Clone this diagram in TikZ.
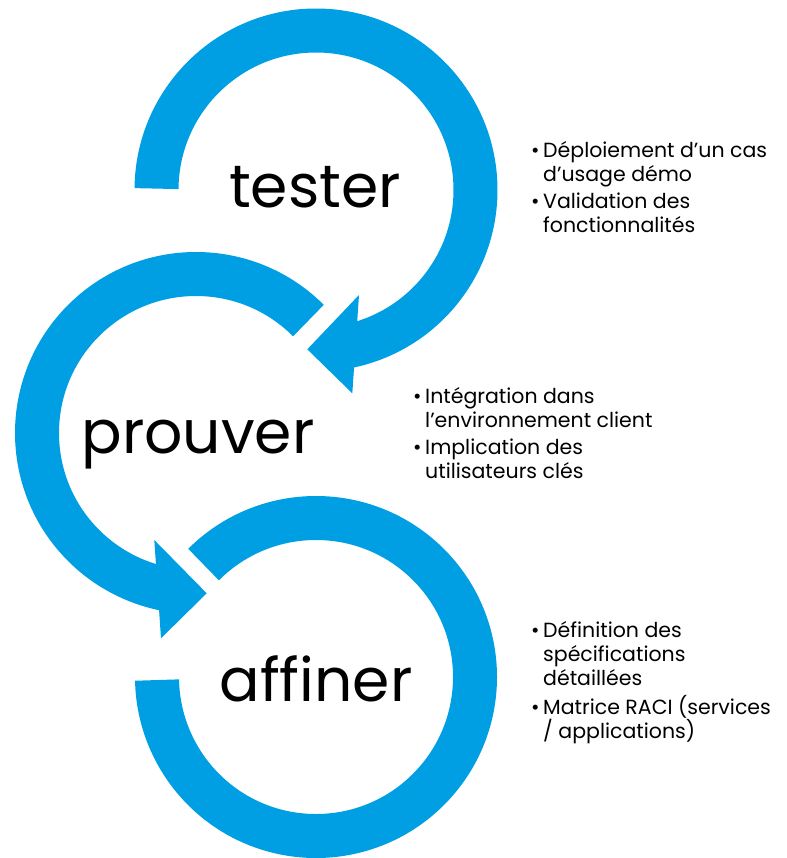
\documentclass[tikz,border=0pt]{standalone}
\usepackage{fontspec}
\setmainfont{Poppins}
\usetikzlibrary{calc}
\definecolor{ringblue}{HTML}{009FE3}
\begin{document}
\begin{tikzpicture}[x=1pt,y=1pt,
  ring/.style={draw=ringblue, line width=44pt},
  head/.style={fill=ringblue},
  big/.style={font=\fontsize{60}{60}\selectfont, inner sep=0pt, anchor=base},
  txt/.style={font=\fontsize{20.5}{24}\selectfont, inner sep=0pt, anchor=base west},
  dot/.style={font=\fontsize{20.5}{24}\selectfont, inner sep=0pt, anchor=base west}]
\useasboundingbox (0,0) rectangle (786,-858);
% centres
\coordinate (T) at (316,-190);
\coordinate (P) at (196,-433);
\coordinate (A) at (316,-677);
% top ring
\draw[ring] ($(T)+(179.5:159.5pt)$) arc[start angle=179.5, end angle=-80, radius=159.5pt];
\coordinate (t1) at (359,-295);
\coordinate (t2) at (307.3,-349.3);
\coordinate (t3) at (352.3,-393.3);
\fill[head] (t1) -- (t2) -- (t3) -- cycle;
% middle ring
\draw[ring] ($(P)+(45:159pt)$) arc[start angle=45, end angle=260, radius=159pt];
\coordinate (p1) at (154.3,-540);
\coordinate (p2) at (206.7,-593.3);
\coordinate (p3) at (161,-638.3);
\fill[head] (p1) -- (p2) -- (p3) -- cycle;
% bottom ring
\draw[ring] ($(A)+(135:159pt)$) arc[start angle=135, end angle=-178.9, radius=159pt];
% labels
\node[big] (lt) at (315,-208) {tester};
\node[big] (lp) at (198,-453) {prouver};
\node[big] (la) at (316,-701) {affiner};
% top list
\node[dot] (d1) at (531,-158) {•};
\node[txt] (a1) at (543,-158) {Déploiement d’un cas};
\node[txt] (a2) at (543,-182) {d’usage démo};
\node[dot] (d2) at (531,-209) {•};
\node[txt] (a3) at (543,-209) {Validation des};
\node[txt] (a4) at (543,-233) {fonctionnalités};
% middle list
\node[dot] (d3) at (413,-403) {•};
\node[txt] (b1) at (425,-403) {Intégration dans};
\node[txt] (b2) at (425,-427) {l’environnement client};
\node[dot] (d4) at (413,-454) {•};
\node[txt] (b3) at (425,-454) {Implication des};
\node[txt] (b4) at (425,-478) {utilisateurs clés};
% bottom list
\node[dot] (d5) at (531,-637) {•};
\node[txt] (c1) at (543,-637) {Définition des};
\node[txt] (c2) at (543,-661) {spécifications};
\node[txt] (c3) at (543,-685) {détaillées};
\node[dot] (d6) at (531,-714) {•};
\node[txt] (c4) at (543,-714) {Matrice RACI (services};
\node[txt] (c5) at (543,-738) {/ applications)};
\end{tikzpicture}
\end{document}
